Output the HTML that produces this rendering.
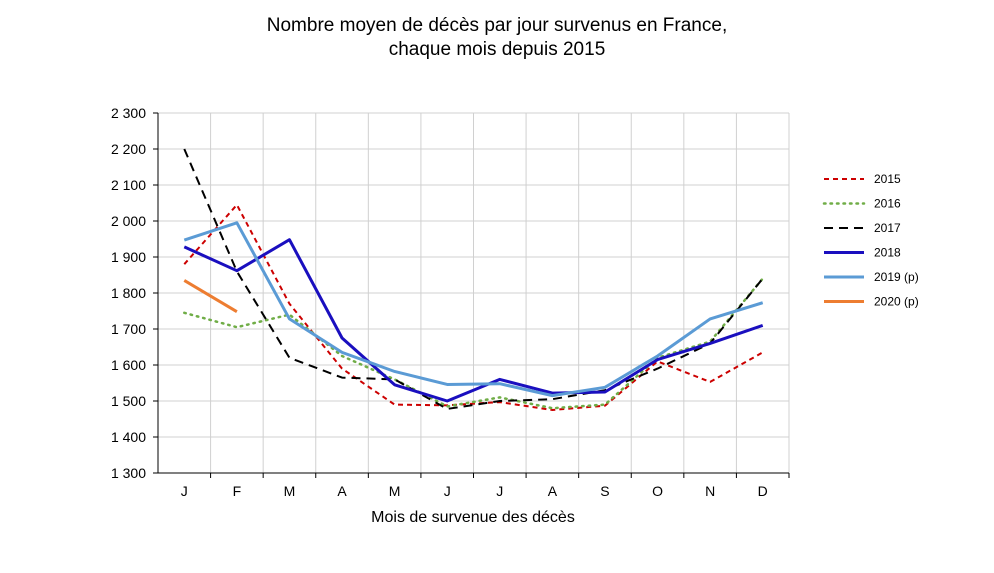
<!DOCTYPE html>
<html><head><meta charset="utf-8"><style>
body{margin:0;background:#fff;font-family:"Liberation Sans",sans-serif}
svg text{font-family:"Liberation Sans",sans-serif;fill:#000}
</style></head><body>
<svg width="994" height="568">
<text x="497" y="31" text-anchor="middle" font-size="19">Nombre moyen de décès par jour survenus en France,</text>
<text x="497" y="55" text-anchor="middle" font-size="19">chaque mois depuis 2015</text>
<g id="grid"></g><g id="series"></g><g id="axes"></g><g id="legend"></g>
<text x="473" y="522" text-anchor="middle" font-size="16">Mois de survenue des décès</text>
</svg>
<script>
const months=["J","F","M","A","M","J","J","A","S","O","N","D"];
const yTicks=[1300,1400,1500,1600,1700,1800,1900,2000,2100,2200,2300];
const seriesNames=["2015","2016","2017","2018","2019 (p)","2020 (p)"];
const s2015=[1880,2045,1770,1590,1490,1488,1497,1475,1487,1610,1553,1635];
const s2016=[1745,1705,1740,1625,1560,1485,1510,1480,1490,1620,1665,1840];
const s2017=[2200,1860,1620,1565,1560,1478,1500,1505,1530,1590,1660,1840];
const s2018=[1928,1862,1948,1675,1545,1500,1560,1522,1525,1615,1660,1710];
const s2019=[1947,1995,1728,1635,1582,1546,1548,1515,1538,1625,1728,1773];
const s2020=[1835,1748];
const NS="http://www.w3.org/2000/svg";
const X0=158,X1=789,Y0=473,Y1=113;
const step=(X1-X0)/12;
const xs=i=>X0+step*(i+0.5);
const ys=v=>Y0-(v-1300)/1000*(Y0-Y1);
function mk(t,a,p){const e=document.createElementNS(NS,t);for(const k in a)e.setAttribute(k,a[k]);p.appendChild(e);return e;}
const grid=document.getElementById('grid'),axes=document.getElementById('axes'),ser=document.getElementById('series'),leg=document.getElementById('legend');
yTicks.forEach(v=>{
 const l=mk('line',{x1:X0,x2:X1,y1:ys(v),y2:ys(v),stroke:'#d0d0d0','stroke-width':1},grid);
 
 
 const t=mk('text',{x:X0-12,y:ys(v)+5,'text-anchor':'end','font-size':14},axes);
 t.textContent=v.toLocaleString('fr-FR').replace(/\s/g,' ');
 
 
 mk('line',{x1:X0-5,x2:X0,y1:ys(v),y2:ys(v),stroke:'#000'},axes);
});
months.forEach((m,i)=>{
 const gx=X0+step*(i+1);
 const l=mk('line',{x1:gx,x2:gx,y1:Y1,y2:Y0,stroke:'#d0d0d0'},grid);
 
 
 mk('line',{x1:gx,x2:gx,y1:Y0,y2:Y0+5,stroke:'#000'},axes);
 const t=mk('text',{x:xs(i),y:496,'text-anchor':'middle','font-size':14},axes);
 t.textContent=m;
 
 
});
mk('line',{x1:X0,x2:X0,y1:Y1,y2:Y0,stroke:'#000'},axes);
mk('line',{x1:X0,x2:X1,y1:Y0,y2:Y0,stroke:'#000'},axes);
const styles=[
 {c:'#cc0000',w:2,d:'5,4'},{c:'#70ad47',w:2.5,d:'1.5,5',cap:'round'},{c:'#000',w:2,d:'9,6'},
 {c:'#1a0fbf',w:3,d:''},{c:'#5b9bd5',w:3,d:''},{c:'#ed7d31',w:3,d:''}];
const data=[s2015,s2016,s2017,s2018,s2019,s2020];
data.forEach((arr,k)=>{
 const st=styles[k];
 const p=mk('polyline',{points:arr.map((v,i)=>xs(i)+','+ys(v)).join(' '),fill:'none',stroke:st.c,'stroke-width':st.w,'stroke-dasharray':st.d,'stroke-linecap':st.cap||'butt','stroke-linejoin':'round'},ser);
 
 
 const ly=179+k*24.5;
 const g=mk('g',{},leg);
 
 
 mk('line',{x1:824,x2:864,y1:ly,y2:ly,stroke:st.c,'stroke-width':st.w,'stroke-dasharray':st.d,'stroke-linecap':st.cap||'butt'},g);
 const t=mk('text',{x:874,y:ly+4,'font-size':12},g);
 t.textContent=seriesNames[k];
});
</script>
</body></html>
